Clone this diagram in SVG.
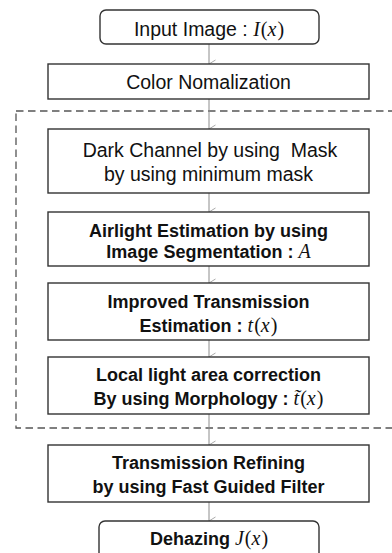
<svg xmlns="http://www.w3.org/2000/svg" width="392" height="553" viewBox="0 0 392 553">
  <style>
    .box { fill: #ffffff; stroke: #333333; stroke-width: 1.4; }
    .group { fill: none; stroke: #555555; stroke-width: 1.3; stroke-dasharray: 7.5 4.5; }
    .edge { fill: none; stroke: #8c8c8c; stroke-width: 1; }
    .head { fill: none; stroke: #a0a0a0; stroke-width: 0.9; }
    .t { font-family: "Liberation Sans", Arial, sans-serif; font-size: 19.5px; fill: #111111; text-anchor: middle; }
    .b { font-weight: bold; font-size: 18px; }
    .m { font-family: "Liberation Serif", "Times New Roman", serif; font-style: italic; font-weight: normal; font-size: 20px; }
    .p { font-family: "Liberation Serif", "Times New Roman", serif; font-weight: normal; font-size: 20px; }
  </style>
  <defs>
    <marker id="arrow" viewBox="0 0 10 10" refX="5" refY="9.5" markerWidth="10" markerHeight="10" markerUnits="userSpaceOnUse" orient="auto-start-reverse">
      <path class="head" d="M1,3 L5,9.5 L9,3"/>
    </marker>
  </defs>

  <rect width="392" height="553" fill="#ffffff"/>

  <!-- dashed grouping frame around the core estimation stages -->
  <rect class="group" x="16" y="111" width="390" height="317"/>

  <g id="connectors">
    <line class="edge" x1="209" y1="44" x2="209" y2="64" marker-end="url(#arrow)"/>
    <line class="edge" x1="209" y1="99" x2="209" y2="129" marker-end="url(#arrow)"/>
    <line class="edge" x1="209" y1="193" x2="209" y2="212" marker-end="url(#arrow)"/>
    <line class="edge" x1="209" y1="266" x2="209" y2="283" marker-end="url(#arrow)"/>
    <line class="edge" x1="209" y1="340" x2="209" y2="357" marker-end="url(#arrow)"/>
    <line class="edge" x1="209" y1="414" x2="209" y2="445" marker-end="url(#arrow)"/>
    <line class="edge" x1="209" y1="502" x2="209" y2="521" marker-end="url(#arrow)"/>
  </g>

  <g id="input">
    <rect class="box" x="100" y="10" width="219" height="34" rx="6"/>
    <text class="t" x="209" y="35.5">Input Image : <tspan class="m">I</tspan><tspan class="p" dx="1">(</tspan><tspan class="m">x</tspan><tspan class="p" dx="1">)</tspan></text>
  </g>

  <g id="color-normalization">
    <rect class="box" x="48" y="64" width="321" height="35"/>
    <text class="t" x="208.5" y="89">Color Nomalization</text>
  </g>

  <g id="dark-channel">
    <rect class="box" x="48" y="129" width="321" height="64"/>
    <text class="t" x="210" y="157" xml:space="preserve" style="white-space:pre">Dark Channel by using  Mask</text>
    <text class="t" x="208.5" y="181">by using minimum mask</text>
  </g>

  <g id="airlight">
    <rect class="box" x="48" y="212" width="321" height="54"/>
    <text class="t b" x="208.5" y="237">Airlight Estimation by using</text>
    <text class="t b" x="208.5" y="258">Image Segmentation : <tspan class="m">A</tspan></text>
  </g>

  <g id="transmission">
    <rect class="box" x="48" y="283" width="321" height="57"/>
    <text class="t b" x="208.5" y="308">Improved Transmission</text>
    <text class="t b" x="208.5" y="332">Estimation : <tspan class="m">t</tspan><tspan class="p" dx="1">(</tspan><tspan class="m">x</tspan><tspan class="p" dx="1">)</tspan></text>
  </g>

  <g id="local-correction">
    <rect class="box" x="48" y="357" width="321" height="57"/>
    <text class="t b" x="208.5" y="381">Local light area correction</text>
    <text class="t b" x="208.5" y="405">By using Morphology : <tspan class="m">t̃</tspan><tspan class="p" dx="1">(</tspan><tspan class="m">x</tspan><tspan class="p" dx="1">)</tspan></text>
  </g>

  <g id="refining">
    <rect class="box" x="48" y="445" width="321" height="57"/>
    <text class="t b" x="208.5" y="469">Transmission Refining</text>
    <text class="t b" x="208.5" y="493">by using Fast Guided Filter</text>
  </g>

  <g id="dehazing">
    <rect class="box" x="99" y="521" width="220" height="40" rx="6"/>
    <text class="t b" x="209" y="545">Dehazing <tspan class="m">J</tspan><tspan class="p" dx="1">(</tspan><tspan class="m">x</tspan><tspan class="p" dx="1">)</tspan></text>
  </g>
</svg>
